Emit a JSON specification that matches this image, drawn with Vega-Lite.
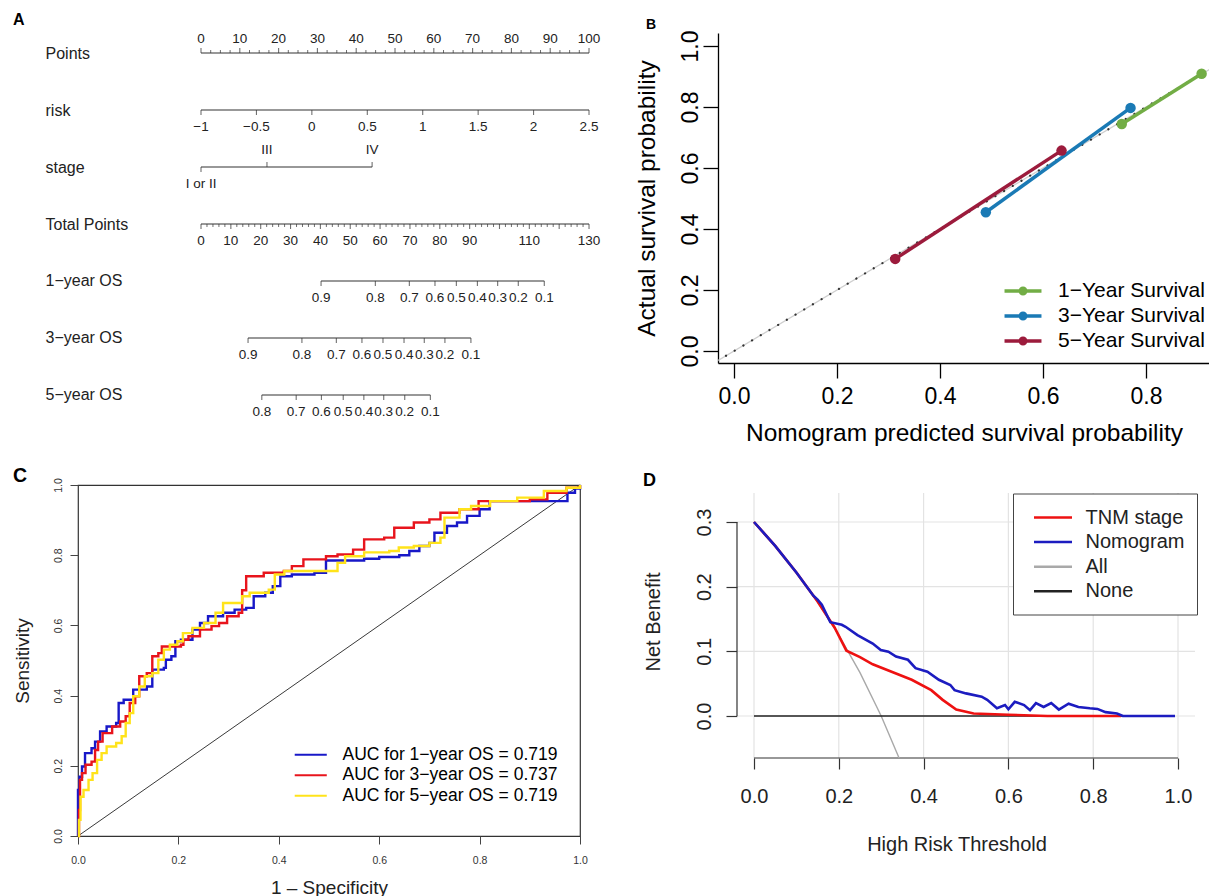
{
  "$schema": "https://vega.github.io/schema/vega-lite/v6.json",
  "background": "white",
  "padding": {"left": 12, "top": 12, "right": 0, "bottom": 0},
  "columns": 2,
  "bounds": "flush",
  "spacing": {"row": 70, "column": 138},
  "resolve": {"scale": {"color": "independent"}, "legend": {"color": "independent"}},
  "config": {
    "font": "Liberation Sans",
    "view": {"stroke": null},
    "axis": {"labelFont": "Liberation Sans", "titleFont": "Liberation Sans", "titleFontWeight": "normal", "labelFlush": false, "labelOverlap": false, "labelBound": false, "grid": false, "domainColor": "#000", "tickColor": "#000", "labelColor": "#000", "titleColor": "#000"},
    "legend": {"labelFont": "Liberation Sans", "labelColor": "#000", "labelLimit": 400},
    "title": {"font": "Liberation Sans", "fontWeight": "bold", "color": "#000", "anchor": "start", "frame": "group", "baseline": "bottom"}
  },
  "datasets": {
    "nomoLinesP": [
      {"row": "Points", "v": 0, "v2": 100}, {"row": "risk", "v": 0, "v2": 100}, {"row": "stage", "v": 0, "v2": 44.1}
    ],
    "nomoLinesT": [
      {"row": "Total Points", "v": 0, "v2": 130}, {"row": "1\u2212year OS", "v": 40.22, "v2": 115.01},
      {"row": "3\u2212year OS", "v": 15.76, "v2": 90.43}, {"row": "5\u2212year OS", "v": 20.37, "v2": 76.84}
    ],
    "nomoTicksP": [
      {"row": "Points", "v": 0, "side": "above", "kind": "major"}, {"row": "Points", "v": 10, "side": "above", "kind": "major"},
      {"row": "Points", "v": 20, "side": "above", "kind": "major"}, {"row": "Points", "v": 30, "side": "above", "kind": "major"},
      {"row": "Points", "v": 40, "side": "above", "kind": "major"}, {"row": "Points", "v": 50, "side": "above", "kind": "major"},
      {"row": "Points", "v": 60, "side": "above", "kind": "major"}, {"row": "Points", "v": 70, "side": "above", "kind": "major"},
      {"row": "Points", "v": 80, "side": "above", "kind": "major"}, {"row": "Points", "v": 90, "side": "above", "kind": "major"},
      {"row": "Points", "v": 100, "side": "above", "kind": "major"},
      {"row": "Points", "v": 2.5, "side": "above", "kind": "minor"}, {"row": "Points", "v": 5, "side": "above", "kind": "minor"},
      {"row": "Points", "v": 7.5, "side": "above", "kind": "minor"}, {"row": "Points", "v": 12.5, "side": "above", "kind": "minor"},
      {"row": "Points", "v": 15, "side": "above", "kind": "minor"}, {"row": "Points", "v": 17.5, "side": "above", "kind": "minor"},
      {"row": "Points", "v": 22.5, "side": "above", "kind": "minor"}, {"row": "Points", "v": 25, "side": "above", "kind": "minor"},
      {"row": "Points", "v": 27.5, "side": "above", "kind": "minor"}, {"row": "Points", "v": 32.5, "side": "above", "kind": "minor"},
      {"row": "Points", "v": 35, "side": "above", "kind": "minor"}, {"row": "Points", "v": 37.5, "side": "above", "kind": "minor"},
      {"row": "Points", "v": 42.5, "side": "above", "kind": "minor"}, {"row": "Points", "v": 45, "side": "above", "kind": "minor"},
      {"row": "Points", "v": 47.5, "side": "above", "kind": "minor"}, {"row": "Points", "v": 52.5, "side": "above", "kind": "minor"},
      {"row": "Points", "v": 55, "side": "above", "kind": "minor"}, {"row": "Points", "v": 57.5, "side": "above", "kind": "minor"},
      {"row": "Points", "v": 62.5, "side": "above", "kind": "minor"}, {"row": "Points", "v": 65, "side": "above", "kind": "minor"},
      {"row": "Points", "v": 67.5, "side": "above", "kind": "minor"}, {"row": "Points", "v": 72.5, "side": "above", "kind": "minor"},
      {"row": "Points", "v": 75, "side": "above", "kind": "minor"}, {"row": "Points", "v": 77.5, "side": "above", "kind": "minor"},
      {"row": "Points", "v": 82.5, "side": "above", "kind": "minor"}, {"row": "Points", "v": 85, "side": "above", "kind": "minor"},
      {"row": "Points", "v": 87.5, "side": "above", "kind": "minor"}, {"row": "Points", "v": 92.5, "side": "above", "kind": "minor"},
      {"row": "Points", "v": 95, "side": "above", "kind": "minor"}, {"row": "Points", "v": 97.5, "side": "above", "kind": "minor"},
      {"row": "risk", "v": 0, "side": "below", "kind": "major"}, {"row": "risk", "v": 14.29, "side": "below", "kind": "major"},
      {"row": "risk", "v": 28.57, "side": "below", "kind": "major"}, {"row": "risk", "v": 42.86, "side": "below", "kind": "major"},
      {"row": "risk", "v": 57.14, "side": "below", "kind": "major"}, {"row": "risk", "v": 71.43, "side": "below", "kind": "major"},
      {"row": "risk", "v": 85.71, "side": "below", "kind": "major"}, {"row": "risk", "v": 100, "side": "below", "kind": "major"},
      {"row": "stage", "v": 0, "side": "below", "kind": "major"}, {"row": "stage", "v": 17.0, "side": "above", "kind": "major"},
      {"row": "stage", "v": 44.1, "side": "above", "kind": "major"}
    ],
    "nomoLabelsP": [
      {"row": "Points", "v": 0, "label": "0", "side": "above"}, {"row": "Points", "v": 10, "label": "10", "side": "above"},
      {"row": "Points", "v": 20, "label": "20", "side": "above"}, {"row": "Points", "v": 30, "label": "30", "side": "above"},
      {"row": "Points", "v": 40, "label": "40", "side": "above"}, {"row": "Points", "v": 50, "label": "50", "side": "above"},
      {"row": "Points", "v": 60, "label": "60", "side": "above"}, {"row": "Points", "v": 70, "label": "70", "side": "above"},
      {"row": "Points", "v": 80, "label": "80", "side": "above"}, {"row": "Points", "v": 90, "label": "90", "side": "above"},
      {"row": "Points", "v": 100, "label": "100", "side": "above"},
      {"row": "risk", "v": 0, "label": "\u22121", "side": "below"}, {"row": "risk", "v": 14.29, "label": "\u22120.5", "side": "below"},
      {"row": "risk", "v": 28.57, "label": "0", "side": "below"}, {"row": "risk", "v": 42.86, "label": "0.5", "side": "below"},
      {"row": "risk", "v": 57.14, "label": "1", "side": "below"}, {"row": "risk", "v": 71.43, "label": "1.5", "side": "below"},
      {"row": "risk", "v": 85.71, "label": "2", "side": "below"}, {"row": "risk", "v": 100, "label": "2.5", "side": "below"},
      {"row": "stage", "v": 0, "label": "I or II", "side": "below"}, {"row": "stage", "v": 17.0, "label": "III", "side": "above"},
      {"row": "stage", "v": 44.1, "label": "IV", "side": "above"}
    ],
    "nomoTicksT": [
      {"row": "Total Points", "v": 0, "kind": "major"}, {"row": "Total Points", "v": 10, "kind": "major"}, {"row": "Total Points", "v": 20, "kind": "major"},
      {"row": "Total Points", "v": 30, "kind": "major"}, {"row": "Total Points", "v": 40, "kind": "major"}, {"row": "Total Points", "v": 50, "kind": "major"},
      {"row": "Total Points", "v": 60, "kind": "major"}, {"row": "Total Points", "v": 70, "kind": "major"}, {"row": "Total Points", "v": 80, "kind": "major"},
      {"row": "Total Points", "v": 90, "kind": "major"}, {"row": "Total Points", "v": 100, "kind": "major"}, {"row": "Total Points", "v": 110, "kind": "major"},
      {"row": "Total Points", "v": 120, "kind": "major"}, {"row": "Total Points", "v": 130, "kind": "major"},
      {"row": "Total Points", "v": 2, "kind": "minor"}, {"row": "Total Points", "v": 4, "kind": "minor"}, {"row": "Total Points", "v": 6, "kind": "minor"},
      {"row": "Total Points", "v": 8, "kind": "minor"}, {"row": "Total Points", "v": 12, "kind": "minor"}, {"row": "Total Points", "v": 14, "kind": "minor"},
      {"row": "Total Points", "v": 16, "kind": "minor"}, {"row": "Total Points", "v": 18, "kind": "minor"}, {"row": "Total Points", "v": 22, "kind": "minor"},
      {"row": "Total Points", "v": 24, "kind": "minor"}, {"row": "Total Points", "v": 26, "kind": "minor"}, {"row": "Total Points", "v": 28, "kind": "minor"},
      {"row": "Total Points", "v": 32, "kind": "minor"}, {"row": "Total Points", "v": 34, "kind": "minor"}, {"row": "Total Points", "v": 36, "kind": "minor"},
      {"row": "Total Points", "v": 38, "kind": "minor"}, {"row": "Total Points", "v": 42, "kind": "minor"}, {"row": "Total Points", "v": 44, "kind": "minor"},
      {"row": "Total Points", "v": 46, "kind": "minor"}, {"row": "Total Points", "v": 48, "kind": "minor"}, {"row": "Total Points", "v": 52, "kind": "minor"},
      {"row": "Total Points", "v": 54, "kind": "minor"}, {"row": "Total Points", "v": 56, "kind": "minor"}, {"row": "Total Points", "v": 58, "kind": "minor"},
      {"row": "Total Points", "v": 62, "kind": "minor"}, {"row": "Total Points", "v": 64, "kind": "minor"}, {"row": "Total Points", "v": 66, "kind": "minor"},
      {"row": "Total Points", "v": 68, "kind": "minor"}, {"row": "Total Points", "v": 72, "kind": "minor"}, {"row": "Total Points", "v": 74, "kind": "minor"},
      {"row": "Total Points", "v": 76, "kind": "minor"}, {"row": "Total Points", "v": 78, "kind": "minor"}, {"row": "Total Points", "v": 82, "kind": "minor"},
      {"row": "Total Points", "v": 84, "kind": "minor"}, {"row": "Total Points", "v": 86, "kind": "minor"}, {"row": "Total Points", "v": 88, "kind": "minor"},
      {"row": "Total Points", "v": 92, "kind": "minor"}, {"row": "Total Points", "v": 94, "kind": "minor"}, {"row": "Total Points", "v": 96, "kind": "minor"},
      {"row": "Total Points", "v": 98, "kind": "minor"}, {"row": "Total Points", "v": 102, "kind": "minor"}, {"row": "Total Points", "v": 104, "kind": "minor"},
      {"row": "Total Points", "v": 106, "kind": "minor"}, {"row": "Total Points", "v": 108, "kind": "minor"}, {"row": "Total Points", "v": 112, "kind": "minor"},
      {"row": "Total Points", "v": 114, "kind": "minor"}, {"row": "Total Points", "v": 116, "kind": "minor"}, {"row": "Total Points", "v": 118, "kind": "minor"},
      {"row": "Total Points", "v": 122, "kind": "minor"}, {"row": "Total Points", "v": 124, "kind": "minor"}, {"row": "Total Points", "v": 126, "kind": "minor"},
      {"row": "Total Points", "v": 128, "kind": "minor"},
      {"row": "1\u2212year OS", "v": 40.22, "kind": "major"}, {"row": "1\u2212year OS", "v": 58.41, "kind": "major"}, {"row": "1\u2212year OS", "v": 69.80, "kind": "major"},
      {"row": "1\u2212year OS", "v": 78.39, "kind": "major"}, {"row": "1\u2212year OS", "v": 85.55, "kind": "major"}, {"row": "1\u2212year OS", "v": 92.60, "kind": "major"},
      {"row": "1\u2212year OS", "v": 99.39, "kind": "major"}, {"row": "1\u2212year OS", "v": 106.30, "kind": "major"}, {"row": "1\u2212year OS", "v": 115.01, "kind": "major"},
      {"row": "3\u2212year OS", "v": 15.76, "kind": "major"}, {"row": "3\u2212year OS", "v": 33.81, "kind": "major"}, {"row": "3\u2212year OS", "v": 45.34, "kind": "major"},
      {"row": "3\u2212year OS", "v": 53.92, "kind": "major"}, {"row": "3\u2212year OS", "v": 60.97, "kind": "major"}, {"row": "3\u2212year OS", "v": 68.02, "kind": "major"},
      {"row": "3\u2212year OS", "v": 74.80, "kind": "major"}, {"row": "3\u2212year OS", "v": 81.72, "kind": "major"}, {"row": "3\u2212year OS", "v": 90.43, "kind": "major"},
      {"row": "5\u2212year OS", "v": 20.37, "kind": "major"}, {"row": "5\u2212year OS", "v": 31.89, "kind": "major"}, {"row": "5\u2212year OS", "v": 40.34, "kind": "major"},
      {"row": "5\u2212year OS", "v": 47.65, "kind": "major"}, {"row": "5\u2212year OS", "v": 54.56, "kind": "major"}, {"row": "5\u2212year OS", "v": 61.22, "kind": "major"},
      {"row": "5\u2212year OS", "v": 68.26, "kind": "major"}, {"row": "5\u2212year OS", "v": 76.84, "kind": "major"}
    ],
    "nomoLabelsT": [
      {"row": "Total Points", "v": 0, "label": "0"}, {"row": "Total Points", "v": 10, "label": "10"}, {"row": "Total Points", "v": 20, "label": "20"},
      {"row": "Total Points", "v": 30, "label": "30"}, {"row": "Total Points", "v": 40, "label": "40"}, {"row": "Total Points", "v": 50, "label": "50"},
      {"row": "Total Points", "v": 60, "label": "60"}, {"row": "Total Points", "v": 70, "label": "70"}, {"row": "Total Points", "v": 80, "label": "80"},
      {"row": "Total Points", "v": 90, "label": "90"}, {"row": "Total Points", "v": 110, "label": "110"}, {"row": "Total Points", "v": 130, "label": "130"},
      {"row": "1\u2212year OS", "v": 40.22, "label": "0.9"}, {"row": "1\u2212year OS", "v": 58.41, "label": "0.8"}, {"row": "1\u2212year OS", "v": 69.80, "label": "0.7"},
      {"row": "1\u2212year OS", "v": 78.39, "label": "0.6"}, {"row": "1\u2212year OS", "v": 85.55, "label": "0.5"}, {"row": "1\u2212year OS", "v": 92.60, "label": "0.4"},
      {"row": "1\u2212year OS", "v": 99.39, "label": "0.3"}, {"row": "1\u2212year OS", "v": 106.30, "label": "0.2"}, {"row": "1\u2212year OS", "v": 115.01, "label": "0.1"},
      {"row": "3\u2212year OS", "v": 15.76, "label": "0.9"}, {"row": "3\u2212year OS", "v": 33.81, "label": "0.8"}, {"row": "3\u2212year OS", "v": 45.34, "label": "0.7"},
      {"row": "3\u2212year OS", "v": 53.92, "label": "0.6"}, {"row": "3\u2212year OS", "v": 60.97, "label": "0.5"}, {"row": "3\u2212year OS", "v": 68.02, "label": "0.4"},
      {"row": "3\u2212year OS", "v": 74.80, "label": "0.3"}, {"row": "3\u2212year OS", "v": 81.72, "label": "0.2"}, {"row": "3\u2212year OS", "v": 90.43, "label": "0.1"},
      {"row": "5\u2212year OS", "v": 20.37, "label": "0.8"}, {"row": "5\u2212year OS", "v": 31.89, "label": "0.7"}, {"row": "5\u2212year OS", "v": 40.34, "label": "0.6"},
      {"row": "5\u2212year OS", "v": 47.65, "label": "0.5"}, {"row": "5\u2212year OS", "v": 54.56, "label": "0.4"}, {"row": "5\u2212year OS", "v": 61.22, "label": "0.3"},
      {"row": "5\u2212year OS", "v": 68.26, "label": "0.2"}, {"row": "5\u2212year OS", "v": 76.84, "label": "0.1"}
    ],
    "calib": [
      {"series": "1\u2212Year Survival", "pred": 0.753, "obs": 0.744}, {"series": "1\u2212Year Survival", "pred": 0.908, "obs": 0.909},
      {"series": "3\u2212Year Survival", "pred": 0.489, "obs": 0.455}, {"series": "3\u2212Year Survival", "pred": 0.770, "obs": 0.797},
      {"series": "5\u2212Year Survival", "pred": 0.313, "obs": 0.302}, {"series": "5\u2212Year Survival", "pred": 0.636, "obs": 0.657}
    ],
    "calibRef": [{"pred": -0.1, "obs": -0.1}, {"pred": 1.1, "obs": 1.1}],
    "diag": [{"fpr": 0, "tpr": 0}, {"fpr": 1, "tpr": 1}],
    "roc": [
      {"year": 1, "fpr": 0, "tpr": 0}, {"year": 1, "fpr": 0, "tpr": 0.131}, {"year": 1, "fpr": 0.003, "tpr": 0.169},
      {"year": 1, "fpr": 0.008, "tpr": 0.198}, {"year": 1, "fpr": 0.014, "tpr": 0.236}, {"year": 1, "fpr": 0.027, "tpr": 0.25},
      {"year": 1, "fpr": 0.034, "tpr": 0.269}, {"year": 1, "fpr": 0.044, "tpr": 0.298}, {"year": 1, "fpr": 0.057, "tpr": 0.312},
      {"year": 1, "fpr": 0.076, "tpr": 0.322}, {"year": 1, "fpr": 0.081, "tpr": 0.379}, {"year": 1, "fpr": 0.091, "tpr": 0.388},
      {"year": 1, "fpr": 0.11, "tpr": 0.417}, {"year": 1, "fpr": 0.137, "tpr": 0.426}, {"year": 1, "fpr": 0.148, "tpr": 0.474},
      {"year": 1, "fpr": 0.171, "tpr": 0.479}, {"year": 1, "fpr": 0.175, "tpr": 0.502}, {"year": 1, "fpr": 0.186, "tpr": 0.512},
      {"year": 1, "fpr": 0.194, "tpr": 0.555}, {"year": 1, "fpr": 0.205, "tpr": 0.559}, {"year": 1, "fpr": 0.228, "tpr": 0.588},
      {"year": 1, "fpr": 0.243, "tpr": 0.607}, {"year": 1, "fpr": 0.259, "tpr": 0.626}, {"year": 1, "fpr": 0.289, "tpr": 0.636},
      {"year": 1, "fpr": 0.312, "tpr": 0.645}, {"year": 1, "fpr": 0.335, "tpr": 0.65}, {"year": 1, "fpr": 0.35, "tpr": 0.683},
      {"year": 1, "fpr": 0.373, "tpr": 0.693}, {"year": 1, "fpr": 0.388, "tpr": 0.712}, {"year": 1, "fpr": 0.403, "tpr": 0.74},
      {"year": 1, "fpr": 0.426, "tpr": 0.745}, {"year": 1, "fpr": 0.471, "tpr": 0.75}, {"year": 1, "fpr": 0.494, "tpr": 0.785},
      {"year": 1, "fpr": 0.54, "tpr": 0.785}, {"year": 1, "fpr": 0.57, "tpr": 0.79}, {"year": 1, "fpr": 0.6, "tpr": 0.795},
      {"year": 1, "fpr": 0.64, "tpr": 0.8}, {"year": 1, "fpr": 0.66, "tpr": 0.812}, {"year": 1, "fpr": 0.68, "tpr": 0.826},
      {"year": 1, "fpr": 0.7, "tpr": 0.835}, {"year": 1, "fpr": 0.71, "tpr": 0.864}, {"year": 1, "fpr": 0.735, "tpr": 0.883},
      {"year": 1, "fpr": 0.755, "tpr": 0.893}, {"year": 1, "fpr": 0.775, "tpr": 0.912}, {"year": 1, "fpr": 0.8, "tpr": 0.931},
      {"year": 1, "fpr": 0.82, "tpr": 0.954}, {"year": 1, "fpr": 0.97, "tpr": 0.954}, {"year": 1, "fpr": 0.975, "tpr": 0.978},
      {"year": 1, "fpr": 0.99, "tpr": 0.99}, {"year": 1, "fpr": 1, "tpr": 1},
      {"year": 3, "fpr": 0, "tpr": 0}, {"year": 3, "fpr": 0.002, "tpr": 0.074}, {"year": 3, "fpr": 0.004, "tpr": 0.16},
      {"year": 3, "fpr": 0.008, "tpr": 0.179}, {"year": 3, "fpr": 0.015, "tpr": 0.203}, {"year": 3, "fpr": 0.027, "tpr": 0.212},
      {"year": 3, "fpr": 0.034, "tpr": 0.245}, {"year": 3, "fpr": 0.04, "tpr": 0.269}, {"year": 3, "fpr": 0.049, "tpr": 0.293},
      {"year": 3, "fpr": 0.068, "tpr": 0.312}, {"year": 3, "fpr": 0.084, "tpr": 0.326}, {"year": 3, "fpr": 0.095, "tpr": 0.341},
      {"year": 3, "fpr": 0.103, "tpr": 0.379}, {"year": 3, "fpr": 0.114, "tpr": 0.398}, {"year": 3, "fpr": 0.122, "tpr": 0.455},
      {"year": 3, "fpr": 0.137, "tpr": 0.464}, {"year": 3, "fpr": 0.148, "tpr": 0.512}, {"year": 3, "fpr": 0.16, "tpr": 0.521},
      {"year": 3, "fpr": 0.167, "tpr": 0.54}, {"year": 3, "fpr": 0.205, "tpr": 0.545}, {"year": 3, "fpr": 0.21, "tpr": 0.559},
      {"year": 3, "fpr": 0.22, "tpr": 0.569}, {"year": 3, "fpr": 0.243, "tpr": 0.588}, {"year": 3, "fpr": 0.266, "tpr": 0.598},
      {"year": 3, "fpr": 0.281, "tpr": 0.607}, {"year": 3, "fpr": 0.297, "tpr": 0.626}, {"year": 3, "fpr": 0.32, "tpr": 0.636},
      {"year": 3, "fpr": 0.327, "tpr": 0.7}, {"year": 3, "fpr": 0.335, "tpr": 0.74}, {"year": 3, "fpr": 0.365, "tpr": 0.74},
      {"year": 3, "fpr": 0.37, "tpr": 0.75}, {"year": 3, "fpr": 0.41, "tpr": 0.755}, {"year": 3, "fpr": 0.426, "tpr": 0.769},
      {"year": 3, "fpr": 0.449, "tpr": 0.788}, {"year": 3, "fpr": 0.494, "tpr": 0.797}, {"year": 3, "fpr": 0.517, "tpr": 0.802},
      {"year": 3, "fpr": 0.548, "tpr": 0.816}, {"year": 3, "fpr": 0.57, "tpr": 0.845}, {"year": 3, "fpr": 0.61, "tpr": 0.85},
      {"year": 3, "fpr": 0.63, "tpr": 0.878}, {"year": 3, "fpr": 0.669, "tpr": 0.893}, {"year": 3, "fpr": 0.7, "tpr": 0.902},
      {"year": 3, "fpr": 0.722, "tpr": 0.921}, {"year": 3, "fpr": 0.76, "tpr": 0.931}, {"year": 3, "fpr": 0.798, "tpr": 0.954},
      {"year": 3, "fpr": 0.86, "tpr": 0.954}, {"year": 3, "fpr": 0.9, "tpr": 0.959}, {"year": 3, "fpr": 0.935, "tpr": 0.978},
      {"year": 3, "fpr": 0.973, "tpr": 0.992}, {"year": 3, "fpr": 1, "tpr": 1},
      {"year": 5, "fpr": 0, "tpr": 0}, {"year": 5, "fpr": 0.002, "tpr": 0.046}, {"year": 5, "fpr": 0.005, "tpr": 0.112},
      {"year": 5, "fpr": 0.011, "tpr": 0.131}, {"year": 5, "fpr": 0.021, "tpr": 0.16}, {"year": 5, "fpr": 0.029, "tpr": 0.179},
      {"year": 5, "fpr": 0.038, "tpr": 0.217}, {"year": 5, "fpr": 0.047, "tpr": 0.236}, {"year": 5, "fpr": 0.057, "tpr": 0.255},
      {"year": 5, "fpr": 0.076, "tpr": 0.265}, {"year": 5, "fpr": 0.087, "tpr": 0.284}, {"year": 5, "fpr": 0.095, "tpr": 0.322},
      {"year": 5, "fpr": 0.103, "tpr": 0.35}, {"year": 5, "fpr": 0.11, "tpr": 0.398}, {"year": 5, "fpr": 0.122, "tpr": 0.426},
      {"year": 5, "fpr": 0.133, "tpr": 0.455}, {"year": 5, "fpr": 0.148, "tpr": 0.464}, {"year": 5, "fpr": 0.16, "tpr": 0.502},
      {"year": 5, "fpr": 0.171, "tpr": 0.531}, {"year": 5, "fpr": 0.183, "tpr": 0.545}, {"year": 5, "fpr": 0.198, "tpr": 0.555},
      {"year": 5, "fpr": 0.209, "tpr": 0.578}, {"year": 5, "fpr": 0.228, "tpr": 0.593}, {"year": 5, "fpr": 0.251, "tpr": 0.607},
      {"year": 5, "fpr": 0.274, "tpr": 0.636}, {"year": 5, "fpr": 0.289, "tpr": 0.664}, {"year": 5, "fpr": 0.32, "tpr": 0.664},
      {"year": 5, "fpr": 0.327, "tpr": 0.683}, {"year": 5, "fpr": 0.342, "tpr": 0.693}, {"year": 5, "fpr": 0.37, "tpr": 0.693},
      {"year": 5, "fpr": 0.38, "tpr": 0.702}, {"year": 5, "fpr": 0.392, "tpr": 0.745}, {"year": 5, "fpr": 0.411, "tpr": 0.755},
      {"year": 5, "fpr": 0.48, "tpr": 0.755}, {"year": 5, "fpr": 0.517, "tpr": 0.778}, {"year": 5, "fpr": 0.532, "tpr": 0.797},
      {"year": 5, "fpr": 0.57, "tpr": 0.808}, {"year": 5, "fpr": 0.62, "tpr": 0.812}, {"year": 5, "fpr": 0.639, "tpr": 0.822},
      {"year": 5, "fpr": 0.669, "tpr": 0.826}, {"year": 5, "fpr": 0.7, "tpr": 0.835}, {"year": 5, "fpr": 0.722, "tpr": 0.85},
      {"year": 5, "fpr": 0.73, "tpr": 0.907}, {"year": 5, "fpr": 0.76, "tpr": 0.931}, {"year": 5, "fpr": 0.783, "tpr": 0.94},
      {"year": 5, "fpr": 0.821, "tpr": 0.954}, {"year": 5, "fpr": 0.875, "tpr": 0.964}, {"year": 5, "fpr": 0.928, "tpr": 0.983},
      {"year": 5, "fpr": 0.973, "tpr": 0.992}, {"year": 5, "fpr": 1, "tpr": 1}
    ],
    "dca": [
      {"model": "All", "thr": 0, "nb": 0.3}, {"model": "All", "thr": 0.05, "nb": 0.263}, {"model": "All", "thr": 0.1, "nb": 0.222},
      {"model": "All", "thr": 0.15, "nb": 0.176}, {"model": "All", "thr": 0.2, "nb": 0.125}, {"model": "All", "thr": 0.25, "nb": 0.067},
      {"model": "All", "thr": 0.3, "nb": 0.0}, {"model": "All", "thr": 0.35, "nb": -0.077},
      {"model": "None", "thr": 0, "nb": 0}, {"model": "None", "thr": 0.99, "nb": 0},
      {"model": "TNM stage", "thr": 0, "nb": 0.3}, {"model": "TNM stage", "thr": 0.05, "nb": 0.263},
      {"model": "TNM stage", "thr": 0.1, "nb": 0.222}, {"model": "TNM stage", "thr": 0.15, "nb": 0.177},
      {"model": "TNM stage", "thr": 0.19, "nb": 0.137}, {"model": "TNM stage", "thr": 0.218, "nb": 0.101},
      {"model": "TNM stage", "thr": 0.25, "nb": 0.091}, {"model": "TNM stage", "thr": 0.28, "nb": 0.08},
      {"model": "TNM stage", "thr": 0.326, "nb": 0.068}, {"model": "TNM stage", "thr": 0.372, "nb": 0.056},
      {"model": "TNM stage", "thr": 0.418, "nb": 0.04}, {"model": "TNM stage", "thr": 0.445, "nb": 0.025},
      {"model": "TNM stage", "thr": 0.477, "nb": 0.01}, {"model": "TNM stage", "thr": 0.518, "nb": 0.004},
      {"model": "TNM stage", "thr": 0.6, "nb": 0.002}, {"model": "TNM stage", "thr": 0.692, "nb": 0.0},
      {"model": "TNM stage", "thr": 0.866, "nb": 0.0},
      {"model": "Nomogram", "thr": 0, "nb": 0.3}, {"model": "Nomogram", "thr": 0.05, "nb": 0.263},
      {"model": "Nomogram", "thr": 0.1, "nb": 0.222}, {"model": "Nomogram", "thr": 0.14, "nb": 0.186},
      {"model": "Nomogram", "thr": 0.15, "nb": 0.18}, {"model": "Nomogram", "thr": 0.16, "nb": 0.172},
      {"model": "Nomogram", "thr": 0.18, "nb": 0.145}, {"model": "Nomogram", "thr": 0.207, "nb": 0.141},
      {"model": "Nomogram", "thr": 0.216, "nb": 0.138}, {"model": "Nomogram", "thr": 0.244, "nb": 0.125},
      {"model": "Nomogram", "thr": 0.28, "nb": 0.112}, {"model": "Nomogram", "thr": 0.299, "nb": 0.102},
      {"model": "Nomogram", "thr": 0.317, "nb": 0.0995}, {"model": "Nomogram", "thr": 0.335, "nb": 0.092},
      {"model": "Nomogram", "thr": 0.363, "nb": 0.087}, {"model": "Nomogram", "thr": 0.381, "nb": 0.074},
      {"model": "Nomogram", "thr": 0.409, "nb": 0.0685}, {"model": "Nomogram", "thr": 0.436, "nb": 0.056},
      {"model": "Nomogram", "thr": 0.463, "nb": 0.048}, {"model": "Nomogram", "thr": 0.473, "nb": 0.04},
      {"model": "Nomogram", "thr": 0.5, "nb": 0.035}, {"model": "Nomogram", "thr": 0.537, "nb": 0.03},
      {"model": "Nomogram", "thr": 0.55, "nb": 0.025}, {"model": "Nomogram", "thr": 0.573, "nb": 0.012},
      {"model": "Nomogram", "thr": 0.592, "nb": 0.017}, {"model": "Nomogram", "thr": 0.6, "nb": 0.0105},
      {"model": "Nomogram", "thr": 0.615, "nb": 0.022}, {"model": "Nomogram", "thr": 0.637, "nb": 0.017},
      {"model": "Nomogram", "thr": 0.651, "nb": 0.009}, {"model": "Nomogram", "thr": 0.665, "nb": 0.02},
      {"model": "Nomogram", "thr": 0.683, "nb": 0.014}, {"model": "Nomogram", "thr": 0.701, "nb": 0.02},
      {"model": "Nomogram", "thr": 0.719, "nb": 0.01}, {"model": "Nomogram", "thr": 0.742, "nb": 0.019},
      {"model": "Nomogram", "thr": 0.765, "nb": 0.014}, {"model": "Nomogram", "thr": 0.792, "nb": 0.012},
      {"model": "Nomogram", "thr": 0.81, "nb": 0.011}, {"model": "Nomogram", "thr": 0.829, "nb": 0.006},
      {"model": "Nomogram", "thr": 0.856, "nb": 0.004}, {"model": "Nomogram", "thr": 0.87, "nb": 0.0},
      {"model": "Nomogram", "thr": 0.993, "nb": 0.0}
    ],
    "dGrid": [
      {"thr": 0, "thr2": 0, "nb": -0.0649, "nb2": 0.3448}, {"thr": 0.2, "thr2": 0.2, "nb": -0.0649, "nb2": 0.3448},
      {"thr": 0.4, "thr2": 0.4, "nb": -0.0649, "nb2": 0.3448}, {"thr": 0.6, "thr2": 0.6, "nb": -0.0649, "nb2": 0.3448},
      {"thr": 0.8, "thr2": 0.8, "nb": -0.0649, "nb2": 0.3448}, {"thr": 1, "thr2": 1, "nb": -0.0649, "nb2": 0.3448},
      {"thr": -0.0401, "thr2": 1.0401, "nb": 0, "nb2": 0},
      {"thr": -0.0401, "thr2": 1.0401, "nb": 0.1, "nb2": 0.1}, {"thr": -0.0401, "thr2": 1.0401, "nb": 0.2, "nb2": 0.2},
      {"thr": -0.0401, "thr2": 1.0401, "nb": 0.3, "nb2": 0.3}
    ]
  },
  "concat": [
    {
      "width": 483,
      "height": 382,
      "title": {"text": "A", "fontSize": 16, "dx": -65, "offset": 4},
      "resolve": {"scale": {"x": "independent"}},
      "layer": [
        {
          "encoding": {
            "x": {"field": "v", "type": "quantitative", "scale": {"domain": [-31.70, 92.78], "nice": false, "zero": false}, "axis": null},
            "y": {"field": "row", "type": "ordinal", "sort": ["Points", "risk", "stage", "Total Points", "1\u2212year OS", "3\u2212year OS", "5\u2212year OS"],
                  "scale": {"type": "point", "padding": 0.351},
                  "axis": {"title": null, "domain": false, "ticks": false, "tickSize": 0, "labelAlign": "left", "labelBaseline": "middle", "labelPadding": 33, "labelFontSize": 16, "labelColor": "#222"}}
          },
          "layer": [
            {"data": {"name": "nomoLinesP"}, "mark": {"type": "rule", "color": "#333", "strokeWidth": 1.1}, "encoding": {"x2": {"field": "v2"}}},
            {"data": {"name": "nomoTicksP"}, "transform": [{"filter": "datum.side == 'above' && datum.kind == 'major'"}], "mark": {"type": "tick", "orient": "vertical", "size": 5, "thickness": 1.1, "yOffset": -2.5, "color": "#333"}},
            {"data": {"name": "nomoTicksP"}, "transform": [{"filter": "datum.side == 'above' && datum.kind == 'minor'"}], "mark": {"type": "tick", "orient": "vertical", "size": 3, "thickness": 1, "yOffset": -1.5, "color": "#333"}},
            {"data": {"name": "nomoTicksP"}, "transform": [{"filter": "datum.side == 'below'"}], "mark": {"type": "tick", "orient": "vertical", "size": 5, "thickness": 1.1, "yOffset": 2.5, "color": "#333"}},
            {"data": {"name": "nomoLabelsP"}, "transform": [{"filter": "datum.side == 'above' && datum.row == 'Points'"}], "mark": {"type": "text", "dy": -14, "fontSize": 13.5, "color": "#222", "baseline": "middle"}, "encoding": {"text": {"field": "label"}}},
            {"data": {"name": "nomoLabelsP"}, "transform": [{"filter": "datum.side == 'above' && datum.row == 'stage'"}], "mark": {"type": "text", "dy": -17, "fontSize": 13.5, "color": "#222", "baseline": "middle"}, "encoding": {"text": {"field": "label"}}},
            {"data": {"name": "nomoLabelsP"}, "transform": [{"filter": "datum.side == 'below'"}], "mark": {"type": "text", "dy": 17, "fontSize": 13.5, "color": "#222", "baseline": "middle"}, "encoding": {"text": {"field": "label"}}}
          ]
        },
        {
          "encoding": {
            "x": {"field": "v", "type": "quantitative", "scale": {"domain": [-41.21, 120.61], "nice": false, "zero": false}, "axis": null},
            "y": {"field": "row", "type": "ordinal", "sort": ["Points", "risk", "stage", "Total Points", "1\u2212year OS", "3\u2212year OS", "5\u2212year OS"],
                  "scale": {"type": "point", "padding": 0.351},
                  "axis": {"title": null, "domain": false, "ticks": false, "tickSize": 0, "labelAlign": "left", "labelBaseline": "middle", "labelPadding": 33, "labelFontSize": 16, "labelColor": "#222"}}
          },
          "layer": [
            {"data": {"name": "nomoLinesT"}, "mark": {"type": "rule", "color": "#333", "strokeWidth": 1.1}, "encoding": {"x2": {"field": "v2"}}},
            {"data": {"name": "nomoTicksT"}, "transform": [{"filter": "datum.kind == 'major'"}], "mark": {"type": "tick", "orient": "vertical", "size": 5, "thickness": 1.1, "yOffset": 2.5, "color": "#333"}},
            {"data": {"name": "nomoTicksT"}, "transform": [{"filter": "datum.kind == 'minor'"}], "mark": {"type": "tick", "orient": "vertical", "size": 3, "thickness": 1, "yOffset": 1.5, "color": "#333"}},
            {"data": {"name": "nomoLabelsT"}, "mark": {"type": "text", "dy": 17, "fontSize": 13.5, "color": "#222", "baseline": "middle"}, "encoding": {"text": {"field": "label"}}}
          ]
        }
      ]
    },
    {
      "width": 492,
      "height": 330,
      "title": {"text": "B", "fontSize": 14, "dx": -72, "offset": -2},
      "encoding": {
        "x": {"field": "pred", "type": "quantitative", "scale": {"domain": [-0.0311, 0.9243], "nice": false, "zero": false},
              "axis": {"values": [0, 0.2, 0.4, 0.6, 0.8], "format": ".1f", "title": "Nomogram predicted survival probability", "tickSize": 15, "tickWidth": 1.3, "domainWidth": 1.3, "labelFontSize": 23, "labelPadding": 7.5, "titleFontSize": 24.5, "titlePadding": 13}},
        "y": {"field": "obs", "type": "quantitative", "scale": {"domain": [-0.0393, 1.0426], "nice": false, "zero": false},
              "axis": {"values": [0, 0.2, 0.4, 0.6, 0.8, 1], "format": ".1f", "title": "Actual survival probability", "tickSize": 15, "tickWidth": 1.3, "domainWidth": 1.3, "labelFontSize": 23, "labelPadding": 1, "labelAngle": -90, "labelAlign": "center", "labelBaseline": "bottom", "titleFontSize": 24.5, "titlePadding": 20}}
      },
      "layer": [
        {"data": {"name": "calibRef"}, "mark": {"type": "line", "color": "#cfcfcf", "strokeWidth": 1.3, "clip": true}},
        {"data": {"name": "calibRef"}, "mark": {"type": "line", "color": "#333", "strokeWidth": 2.2, "strokeDash": [0.1, 10], "strokeCap": "round", "clip": true}},
        {"data": {"name": "calib"}, "mark": {"type": "line", "strokeWidth": 3.5},
         "encoding": {"color": {"field": "series", "type": "nominal",
           "scale": {"domain": ["1\u2212Year Survival", "3\u2212Year Survival", "5\u2212Year Survival"], "range": ["#72ad45", "#1a7ab5", "#9c1b3c"]},
           "legend": {"orient": "none", "legendX": 294.5, "legendY": 247.5, "title": null, "symbolType": "M-2.31,0H2.31M0.34,0A0.34,0.34,0,1,1,-0.34,0A0.34,0.34,0,1,1,0.34,0Z", "symbolSize": 256, "symbolStrokeWidth": 3.5, "labelFontSize": 21, "labelOffset": 24.5, "rowPadding": 3, "padding": 0}}}},
        {"data": {"name": "calib"}, "mark": {"type": "point", "filled": true, "size": 110, "opacity": 1},
         "encoding": {"color": {"field": "series", "type": "nominal",
           "scale": {"domain": ["1\u2212Year Survival", "3\u2212Year Survival", "5\u2212Year Survival"], "range": ["#72ad45", "#1a7ab5", "#9c1b3c"]}}}}
      ]
    },
    {
      "width": 502,
      "height": 351,
      "view": {"stroke": "#333", "strokeWidth": 1.2},
      "title": {"text": "C", "fontSize": 19.5, "dx": -65, "offset": -8.5},
      "encoding": {
        "x": {"field": "fpr", "type": "quantitative", "scale": {"domain": [0, 1], "nice": false, "zero": false},
              "axis": {"values": [0, 0.2, 0.4, 0.6, 0.8, 1], "format": ".1f", "title": "1 \u2013 Specificity", "domain": false, "tickSize": 8, "tickColor": "#444", "labelFontSize": 10.5, "labelColor": "#333", "labelPadding": 11, "titleFontSize": 19, "titleColor": "#222", "titlePadding": 13}},
        "y": {"field": "tpr", "type": "quantitative", "scale": {"domain": [0, 1], "nice": false, "zero": false},
              "axis": {"values": [0, 0.2, 0.4, 0.6, 0.8, 1], "format": ".1f", "title": "Sensitivity", "domain": false, "tickSize": 8, "tickColor": "#444", "labelFontSize": 10.5, "labelColor": "#333", "labelPadding": 7, "labelAngle": -90, "labelAlign": "center", "labelBaseline": "bottom", "titleFontSize": 19, "titleColor": "#222", "titlePadding": 20.5}}
      },
      "layer": [
        {"data": {"name": "diag"}, "mark": {"type": "line", "color": "#222", "strokeWidth": 0.9}},
        {"data": {"name": "roc"}, "transform": [{"filter": "datum.year == 1"}], "mark": {"type": "line", "interpolate": "step-after", "strokeWidth": 2.4},
         "encoding": {"order": {"value": null}, "color": {"datum": "AUC for 1\u2212year OS = 0.719", "type": "nominal",
           "scale": {"domain": ["AUC for 1\u2212year OS = 0.719", "AUC for 3\u2212year OS = 0.737", "AUC for 5\u2212year OS = 0.719"], "range": ["#1818c8", "#e8141c", "#ffe31a"]},
           "legend": {"orient": "none", "legendX": 224, "legendY": 261, "title": null, "symbolType": "M-2.29,0H2.29", "symbolSize": 196, "symbolStrokeWidth": 2.2, "labelFontSize": 17.5, "labelOffset": 23, "rowPadding": 1.5, "padding": 0}}}},
        {"data": {"name": "roc"}, "transform": [{"filter": "datum.year == 3"}], "mark": {"type": "line", "interpolate": "step-after", "strokeWidth": 2.4},
         "encoding": {"order": {"value": null}, "color": {"datum": "AUC for 3\u2212year OS = 0.737", "type": "nominal",
           "scale": {"domain": ["AUC for 1\u2212year OS = 0.719", "AUC for 3\u2212year OS = 0.737", "AUC for 5\u2212year OS = 0.719"], "range": ["#1818c8", "#e8141c", "#ffe31a"]}}}},
        {"data": {"name": "roc"}, "transform": [{"filter": "datum.year == 5"}], "mark": {"type": "line", "interpolate": "step-after", "strokeWidth": 2.4},
         "encoding": {"order": {"value": null}, "color": {"datum": "AUC for 5\u2212year OS = 0.719", "type": "nominal",
           "scale": {"domain": ["AUC for 1\u2212year OS = 0.719", "AUC for 3\u2212year OS = 0.737", "AUC for 5\u2212year OS = 0.719"], "range": ["#1818c8", "#e8141c", "#ffe31a"]}}}}
      ]
    },
    {
      "width": 477,
      "height": 273,
      "title": {"text": "D", "fontSize": 18, "dx": -75, "offset": -5},
      "encoding": {
        "x": {"field": "thr", "type": "quantitative", "scale": {"domain": [-0.0849, 1.0401], "nice": false, "zero": false},
              "axis": {"values": [0, 0.2, 0.4, 0.6, 0.8, 1], "format": ".1f", "title": "High Risk Threshold", "domain": false, "tickSize": 11, "tickColor": "#333", "tickWidth": 1.2, "labelFontSize": 20, "labelColor": "#222", "labelPadding": 17, "titleFontSize": 20, "titleColor": "#222", "titlePadding": 28}},
        "y": {"field": "nb", "type": "quantitative", "scale": {"domain": [-0.0649, 0.3572], "nice": false, "zero": false},
              "axis": {"values": [0, 0.1, 0.2, 0.3], "format": ".1f", "title": "Net Benefit", "offset": -19, "domain": false, "tickSize": 11, "tickColor": "#333", "tickWidth": 1.2, "labelFontSize": 20, "labelColor": "#222", "labelPadding": 12, "labelAngle": -90, "labelAlign": "center", "labelBaseline": "bottom", "titleFontSize": 20, "titleColor": "#222", "titlePadding": 31}}
      },
      "layer": [
        {"data": {"name": "dGrid"}, "mark": {"type": "rule", "color": "#e3e3e3", "strokeWidth": 1.2}, "encoding": {"x2": {"field": "thr2"}, "y2": {"field": "nb2"}}},
        {"data": {"values": [{"thr": 0, "thr2": 1, "nb": -0.0649}]}, "mark": {"type": "rule", "color": "#333", "strokeWidth": 1.2}, "encoding": {"x2": {"field": "thr2"}}},
        {"data": {"values": [{"thr": -0.0401, "nb": 0, "nb2": 0.3}]}, "mark": {"type": "rule", "color": "#333", "strokeWidth": 1.2}, "encoding": {"y2": {"field": "nb2"}}},
        {"data": {"name": "dca"}, "transform": [{"filter": "datum.model == 'All'"}], "mark": {"type": "line", "strokeWidth": 1.4, "clip": true},
         "encoding": {"color": {"field": "model", "type": "nominal",
           "scale": {"domain": ["TNM stage", "Nomogram", "All", "None"], "range": ["#ee1111", "#1c1cc0", "#a9a9a9", "#222222"]},
           "legend": {"orient": "none", "legendX": 295, "legendY": 8.5, "title": null, "symbolType": "M-0.3,0H3.5", "symbolSize": 400, "symbolStrokeWidth": 2.5, "labelFontSize": 20, "labelColor": "#222", "labelOffset": 37, "rowPadding": 2.6, "padding": 12.5, "strokeColor": "#444", "fillColor": "white"}}}},
        {"data": {"name": "dca"}, "transform": [{"filter": "datum.model == 'None'"}], "mark": {"type": "line", "strokeWidth": 1.4},
         "encoding": {"color": {"field": "model", "type": "nominal", "scale": {"domain": ["TNM stage", "Nomogram", "All", "None"], "range": ["#ee1111", "#1c1cc0", "#a9a9a9", "#222222"]}}}},
        {"data": {"name": "dca"}, "transform": [{"filter": "datum.model == 'TNM stage'"}], "mark": {"type": "line", "strokeWidth": 2.6},
         "encoding": {"color": {"field": "model", "type": "nominal", "scale": {"domain": ["TNM stage", "Nomogram", "All", "None"], "range": ["#ee1111", "#1c1cc0", "#a9a9a9", "#222222"]}}}},
        {"data": {"name": "dca"}, "transform": [{"filter": "datum.model == 'Nomogram'"}], "mark": {"type": "line", "strokeWidth": 2.6},
         "encoding": {"color": {"field": "model", "type": "nominal", "scale": {"domain": ["TNM stage", "Nomogram", "All", "None"], "range": ["#ee1111", "#1c1cc0", "#a9a9a9", "#222222"]}}}}
      ]
    }
  ]
}
